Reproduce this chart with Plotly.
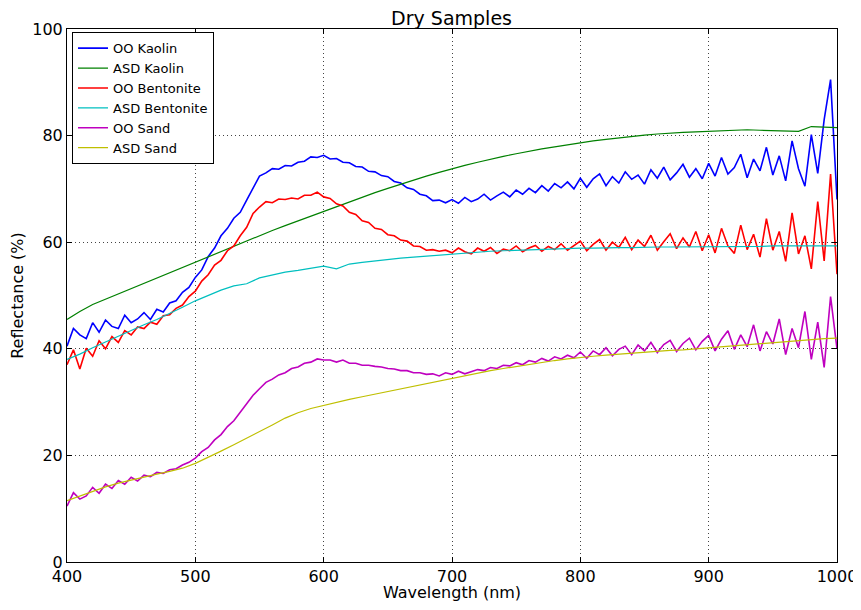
"""Dry Samples reflectance spectra."""
import plotly.graph_objects as go

# Ocean Optics (OO) spectra, sampled every 5 nm
oo_wavelength = list(range(400, 1001, 5))

oo_kaolin = [
    40.5, 43.8, 42.6, 41.9, 44.9, 43.1, 45.4, 44.2, 43.8, 46.3,
    44.9, 45.6, 46.8, 45.5, 47.4, 46.9, 48.6, 49.0, 50.6, 51.5,
    53.4, 54.8, 57.3, 58.9, 61.2, 62.6, 64.5, 65.6, 67.9, 70.1,
    72.4, 73.0, 73.8, 73.7, 74.4, 74.3, 75.0, 75.2, 76.0, 75.9,
    76.3, 75.6, 75.7, 75.0, 74.9, 74.2, 74.1, 73.3, 73.2, 72.5,
    72.3, 71.4, 71.1, 70.2, 69.9, 69.0, 68.7, 67.8, 67.9, 67.4,
    68.0, 67.3, 68.4, 67.6, 68.1, 69.0, 67.9, 68.7, 69.4, 68.5,
    69.8, 69.0, 70.1, 69.3, 70.6, 69.6, 71.0, 70.2, 71.3, 70.0,
    72.0, 70.3, 71.9, 72.8, 70.6, 72.3, 71.1, 73.2, 71.8, 72.6,
    70.9, 73.6, 72.0, 74.1, 71.7, 73.0, 74.6, 72.2, 73.8, 71.9,
    74.8, 72.4, 75.9, 72.8, 74.0, 76.5, 72.1, 75.6, 73.4, 77.8,
    72.6, 76.2, 71.5, 79.0, 73.8, 70.5, 80.2, 72.9, 83.0, 90.5,
    68.0,
]

oo_bentonite = [
    37.0, 39.8, 36.2, 40.1, 38.6, 41.5, 40.0, 42.3, 41.2, 43.4,
    42.6, 44.1, 43.8, 45.0, 44.6, 46.2, 46.4, 47.6, 48.2, 49.8,
    50.8, 52.7, 53.9, 55.7, 56.6, 58.4, 59.3, 61.2, 62.8, 65.4,
    66.6, 67.6, 67.4, 68.1, 68.0, 68.3, 68.1, 68.8, 68.8, 69.4,
    68.5, 68.2, 67.2, 66.8, 65.6, 65.2, 64.0, 63.7, 62.6, 62.4,
    61.4, 61.2, 60.4, 60.2, 59.3, 59.2, 58.5, 58.6, 58.3, 58.5,
    58.0, 58.9, 58.2, 57.8, 58.9, 58.3, 59.0, 57.9, 58.7, 58.4,
    59.3, 58.2, 58.9, 59.4, 58.3, 59.2, 58.6, 59.7, 58.5, 59.4,
    60.2, 58.4, 59.6, 60.5, 58.5, 60.0, 59.0, 60.9, 58.6, 60.4,
    59.2, 61.3, 58.5, 60.1, 61.6, 58.8, 60.8, 59.1, 62.0, 58.4,
    61.4, 58.0, 62.6, 59.3, 57.9, 63.2, 58.6, 61.5, 57.2, 64.4,
    58.5, 62.0, 56.4, 65.5, 57.8, 61.2, 55.0, 67.6, 56.5, 72.8,
    54.0,
]

oo_sand = [
    10.5, 13.0, 11.8, 12.4, 14.0, 12.9, 14.6, 13.8, 15.3, 14.6,
    15.9, 15.2, 16.3, 16.0, 16.8, 16.6, 17.3, 17.5, 18.2, 18.7,
    19.5, 20.7, 21.5, 22.9, 23.9, 25.4, 26.5, 28.1, 29.5, 31.3,
    32.5, 33.7, 34.3, 35.1, 35.5, 36.3, 36.6, 37.3, 37.5, 38.1,
    37.9, 37.9, 37.5, 37.9, 37.3, 37.3, 36.9, 36.9, 36.7, 36.6,
    36.3, 36.2, 35.9, 35.9, 35.5, 35.5, 35.2, 35.3, 34.9, 35.5,
    35.2, 35.8, 35.3, 35.7, 36.1, 35.9, 36.5, 36.3, 36.9, 36.8,
    37.4, 37.0, 37.8, 37.5, 38.2, 37.7, 38.5, 38.1, 38.8, 38.3,
    39.4, 38.2, 39.6, 38.9, 40.2, 38.7, 39.9, 40.5, 38.9, 40.7,
    39.6, 41.2, 39.3, 40.8, 41.6, 39.5, 41.0, 42.0, 39.8, 41.4,
    42.5, 39.6, 41.8, 43.4, 39.9, 42.6, 40.4, 44.5, 39.6, 43.2,
    40.9, 45.6, 38.9, 43.8, 40.2, 47.0, 38.0, 45.0, 36.5, 49.8,
    40.0,
]

# ASD spectra, sampled every 10 nm
asd_wavelength = list(range(400, 1001, 10))

asd_kaolin = [
    45.5, 47.0, 48.3, 49.3, 50.3, 51.3, 52.3, 53.3, 54.3, 55.3,
    56.3, 57.3, 58.3, 59.3, 60.3, 61.3, 62.2, 63.1, 64.0, 64.9,
    65.8, 66.7, 67.6, 68.5, 69.3, 70.1, 70.9, 71.7, 72.4, 73.1,
    73.8, 74.4, 75.0, 75.6, 76.1, 76.6, 77.1, 77.5, 77.9, 78.3,
    78.7, 79.0, 79.3, 79.6, 79.9, 80.1, 80.3, 80.5, 80.6, 80.7,
    80.8, 80.9, 81.0, 81.1, 81.0, 80.9, 80.8, 80.8, 81.7, 81.6,
    81.5,
]

asd_bentonite = [
    38.0, 39.0, 40.2, 41.3, 42.4, 43.5, 44.5, 45.5, 46.6, 47.8,
    49.0, 50.0, 51.0, 51.8, 52.2, 53.3, 53.9, 54.4, 54.7, 55.1,
    55.5, 55.0, 55.9, 56.2, 56.5, 56.8, 57.0, 57.2, 57.4, 57.6,
    57.8, 58.0, 58.1, 58.3, 58.4, 58.5, 58.6, 58.7, 58.8, 58.8,
    58.9, 58.9, 59.0, 59.0, 59.0, 59.1, 59.1, 59.1, 59.1, 59.2,
    59.2, 59.2, 59.2, 59.2, 59.2, 59.3, 59.3, 59.3, 59.3, 59.3,
    59.3,
]

asd_sand = [
    11.5, 12.4, 13.3, 14.1, 14.8, 15.4, 16.0, 16.5, 17.0, 17.6,
    18.5, 19.6, 20.8, 22.0, 23.2, 24.4, 25.7, 27.0, 28.0, 28.8,
    29.4, 30.0, 30.5, 31.0, 31.5, 32.0, 32.5, 33.0, 33.5, 34.0,
    34.5, 35.0, 35.4, 35.9, 36.3, 36.7, 37.1, 37.5, 37.8, 38.1,
    38.4, 38.6, 38.8, 39.0, 39.2, 39.4, 39.5, 39.7, 39.8, 40.0,
    40.1, 40.3, 40.5, 40.7, 40.9, 41.1, 41.3, 41.5, 41.7, 41.9,
    42.0,
]

series = [
    ('OO Kaolin', oo_wavelength, oo_kaolin, '#0000ff', 1.6),
    ('ASD Kaolin', asd_wavelength, asd_kaolin, '#008000', 1.2),
    ('OO Bentonite', oo_wavelength, oo_bentonite, '#ff0000', 1.6),
    ('ASD Bentonite', asd_wavelength, asd_bentonite, '#00bfbf', 1.2),
    ('OO Sand', oo_wavelength, oo_sand, '#bf00bf', 1.6),
    ('ASD Sand', asd_wavelength, asd_sand, '#bfbf00', 1.2),
]

fig = go.Figure()
for name, x, y, color, width in series:
    fig.add_trace(go.Scatter(x=x, y=y, mode='lines', name=name,
                             line=dict(color=color, width=width)))

axis_style = dict(
    showline=True, linecolor='black', linewidth=1, mirror='ticks',
    ticks='inside', ticklen=5, tickcolor='black',
    showgrid=True, gridcolor='#444444', gridwidth=1, griddash='1px,3px',
    zeroline=False, automargin=False, tickfont=dict(size=16, color='black'),
)

# the page puts the figure 8 px in from the top-left corner
fig.update_layout(
    width=853, height=594,
    margin=dict(l=59, r=24, t=21, b=40),
    paper_bgcolor='white', plot_bgcolor='white',
    font=dict(family='DejaVu Sans', color='black'),
    title=dict(text='Dry Samples', x=0.52, xanchor='center',
               y=0.982, yanchor='middle', font=dict(size=19)),
    xaxis=dict(range=[400, 1000], dtick=100, tick0=400,
               title=dict(text='Wavelength (nm)', font=dict(size=16), standoff=4),
               **axis_style),
    yaxis=dict(range=[0, 100], dtick=20,
               title=dict(text='Reflectance (%)', font=dict(size=16), standoff=4),
               **axis_style),
    legend=dict(x=0.0065, y=0.994, xanchor='left', yanchor='top',
                bgcolor='white', bordercolor='black', borderwidth=1,
                font=dict(size=13), itemwidth=30, tracegroupgap=0),
    showlegend=True,
)

fig.write_html("out.html")
